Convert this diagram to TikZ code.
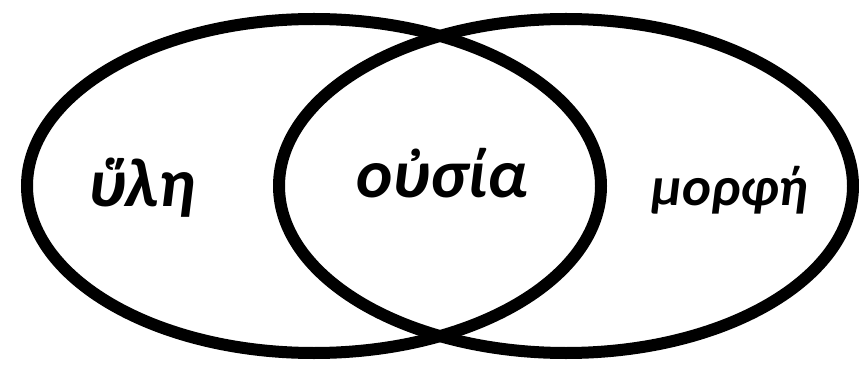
\documentclass[tikz,border=0pt]{standalone}
\usepackage{fontspec}
\setmainfont{Carlito}
\usetikzlibrary{shapes.geometric}
\tikzset{
  venn/.style={draw=black, line width=12pt, ellipse, minimum width=574pt, minimum height=334pt, inner sep=0pt, outer sep=0pt},
  bigword/.style={font=\fontsize{69}{74}\selectfont\bfseries\itshape, anchor=base, inner sep=0pt},
  smallword/.style={font=\fontsize{55}{60}\selectfont\bfseries\itshape, anchor=base, inner sep=0pt}
}
\begin{document}
\begin{tikzpicture}[x=1pt,y=-1pt]
\useasboundingbox (0,0) rectangle (859,366);
\node[venn] (left) at (314,186) {};
\node[venn] (right) at (566,186) {};
\node[bigword] (hyle) at (142,207) {ὕλη};
\node[bigword] (ousia) at (442,198) {οὐσία};
\node[smallword] (morphe) at (730,205) {μορφή};
\end{tikzpicture}
\end{document}
